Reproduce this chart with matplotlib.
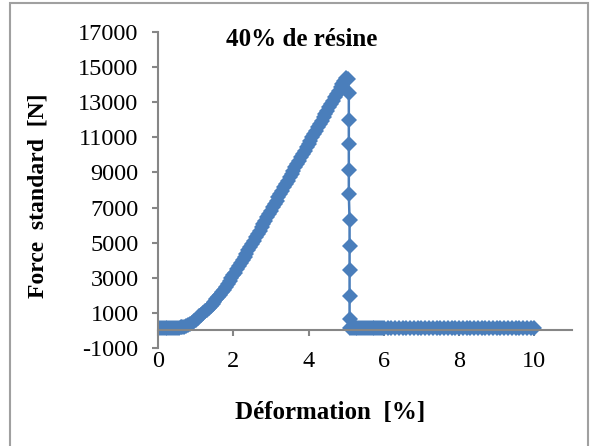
import matplotlib.pyplot as plt
from matplotlib.patches import Rectangle

# data (deformation %, force N)
x_start = [0.0, 0.05, 0.1, 0.15, 0.2, 0.25, 0.3, 0.35, 0.4, 0.45, 0.5, 0.55]
y_start = [150, 150, 150, 150, 150, 150, 150, 150, 150, 150, 150, 150]

x_rise = [0.6, 0.65, 0.7, 0.75, 0.8, 0.85, 0.9, 0.95, 1.0, 1.05, 1.1, 1.15, 1.2, 1.25,
          1.3, 1.35, 1.4, 1.45, 1.5, 1.55, 1.6, 1.65, 1.7, 1.75, 1.8, 1.85, 1.9, 1.95,
          2.0, 2.05, 2.1, 2.15, 2.2, 2.25, 2.3, 2.35, 2.4, 2.45, 2.5, 2.55, 2.6, 2.65,
          2.7, 2.75, 2.8, 2.85, 2.9, 2.95, 3.0, 3.05, 3.1, 3.15, 3.2, 3.25, 3.3, 3.35,
          3.4, 3.45, 3.5, 3.55, 3.6, 3.65, 3.7, 3.75, 3.8, 3.85, 3.9, 3.95, 4.0, 4.05,
          4.1, 4.15, 4.2, 4.25, 4.3, 4.35, 4.4, 4.45, 4.5, 4.55, 4.6, 4.65, 4.7, 4.75,
          4.8, 4.85, 4.9, 4.95, 5.0, 5.05]
y_rise = [170, 190, 220, 260, 310, 370, 440, 530, 620, 710, 800, 890, 990, 1090,
          1190, 1290, 1400, 1520, 1640, 1770, 1900, 2040, 2180, 2330, 2480, 2640, 2800, 2960,
          3130, 3300, 3480, 3660, 3840, 4020, 4200, 4380, 4570, 4750, 4940, 5120, 5310, 5500,
          5690, 5870, 6060, 6250, 6440, 6630, 6820, 7010, 7200, 7390, 7580, 7770, 7960, 8150,
          8340, 8530, 8720, 8910, 9100, 9290, 9480, 9670, 9860, 10050, 10240, 10430, 10620, 10810,
          11000, 11190, 11380, 11570, 11760, 11950, 12140, 12330, 12520, 12710, 12900, 13090, 13280, 13470,
          13660, 13850, 14040, 14220, 14400, 14300]

x_drop = [5.07, 5.07, 5.07, 5.07, 5.07, 5.09, 5.09, 5.09, 5.09, 5.09]
y_drop = [13510, 11990, 10620, 9140, 7770, 6290, 4810, 3440, 1960, 640]

x_end = [5.1, 5.15, 5.2, 5.25, 5.3, 5.35, 5.4, 5.45, 5.5, 5.55, 5.6, 5.65, 5.7, 5.75,
         5.8, 5.85, 5.9, 5.95, 6.0, 6.1, 6.2, 6.3, 6.4, 6.5,
         6.6, 6.7, 6.8, 6.9, 7.0, 7.1, 7.2, 7.3, 7.4, 7.5, 7.6, 7.7, 7.8, 7.9, 8.0,
         8.1, 8.2, 8.3, 8.4, 8.5, 8.6, 8.7, 8.8, 8.9, 9.0, 9.1, 9.2, 9.3, 9.4, 9.5,
         9.6, 9.7, 9.8, 9.9, 10.0]
y_end = [150, 150, 150, 150, 150, 150, 150, 150, 150, 150, 150, 150, 150, 150,
         150, 150, 150, 150, 150, 150, 150, 150, 150, 150,
         150, 150, 150, 150, 150, 150, 150, 150, 150, 150, 150, 150, 150, 150, 150,
         150, 150, 150, 150, 150, 150, 150, 150, 150, 150, 150, 150, 150, 150, 150,
         150, 150, 150, 150, 150]

x = x_start + x_rise + x_drop + x_end
y = y_start + y_rise + y_drop + y_end

plt.rcParams['font.family'] = ['Liberation Serif', 'DejaVu Serif']
plt.rcParams['axes.unicode_minus'] = False

fig = plt.figure(figsize=(5.99, 4.46), dpi=100)
# outer chart frame (Excel style)
fig.patches.append(Rectangle((10 / 599, -0.1), 578 / 599, 1.1 - 3 / 446,
                             transform=fig.transFigure, fill=False,
                             edgecolor='#a0a0a0', linewidth=1.5))

ax = fig.add_axes([158 / 599, 98 / 446, 414 / 599, 316 / 446])
ax.plot(x, y, marker='D', markersize=8.5, markeredgewidth=0, linestyle='-',
        linewidth=1.8, color='#4a7ebb')

ax.set_xlim(0, 11)
ax.set_ylim(-1000, 17000)
ax.set_yticks([-1000, 1000, 3000, 5000, 7000, 9000, 11000, 13000, 15000, 17000])
ax.set_xticks([0, 2, 4, 6, 8, 10])

for s in ['top', 'right']:
    ax.spines[s].set_visible(False)
ax.spines['left'].set_color('#868686')
ax.spines['left'].set_linewidth(1.5)
ax.spines['bottom'].set_position(('data', 0))
ax.spines['bottom'].set_color('#868686')
ax.spines['bottom'].set_linewidth(1.5)
ax.tick_params(axis='y', direction='out', length=4, width=1.5, color='#868686',
               labelsize=17.5, pad=10)
ax.tick_params(axis='x', direction='out', length=4, width=1.5, color='#868686',
               labelbottom=False)

# x tick labels sit below the plot area, like Excel "low" labels
sec = ax.secondary_xaxis('bottom')
sec.set_xticks([0, 2, 4, 6, 8, 10])
sec.spines['bottom'].set_visible(False)
sec.tick_params(length=0, labelsize=17.5, pad=2)

fig.text(302 / 599, 1 - 40 / 446, '40% de résine', ha='center', va='center',
         fontsize=18, fontweight='bold')
fig.text(330 / 599, 1 - 413 / 446, 'Déformation  [%]', ha='center', va='center',
         fontsize=18, fontweight='bold')
fig.text(38 / 599, 1 - 196 / 446, 'Force  standard  [N]', ha='center', va='center',
         rotation=90, fontsize=17, fontweight='bold')

plt.savefig('out.png', dpi=100)
